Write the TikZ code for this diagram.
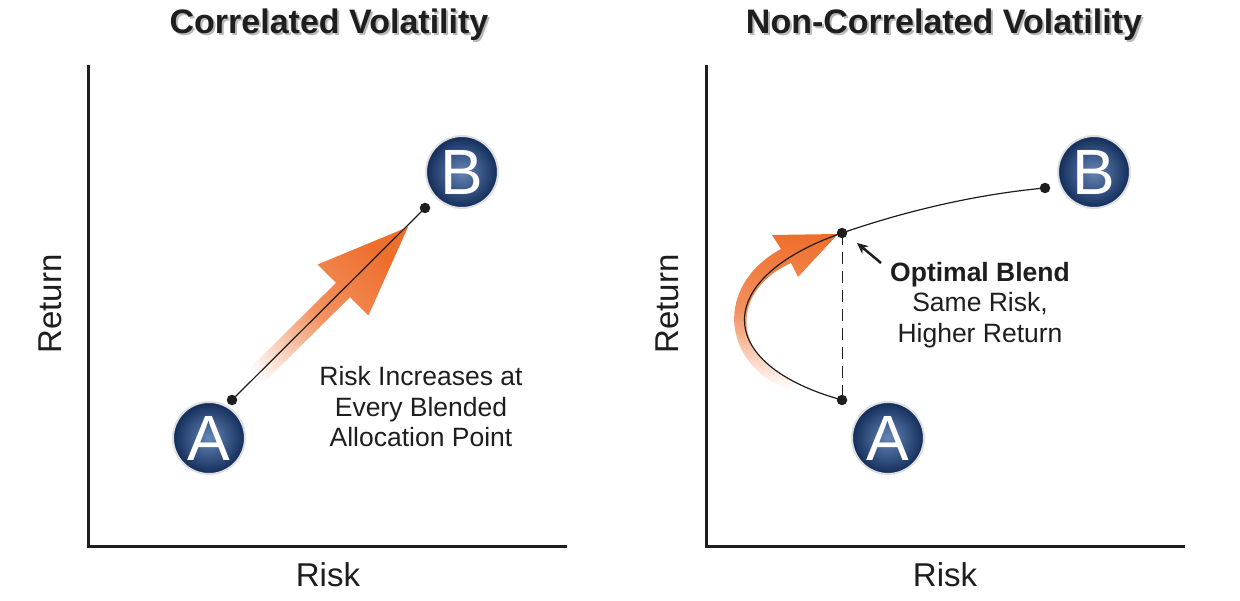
\documentclass[tikz,border=0pt]{standalone}
\usepackage{fontspec}
\setmainfont{Liberation Sans}
\usetikzlibrary{arrows.meta}
\definecolor{ink}{HTML}{1E1E1E}
\definecolor{orng}{HTML}{EE6E2C}
\definecolor{navyout}{HTML}{132D5A}
\definecolor{navyin}{HTML}{6586B6}
\begin{document}
\begin{tikzpicture}[x=1pt,y=-1pt,
  axis/.style={line width=3pt, draw=ink, line join=miter},
  dot/.style={circle, fill=ink, inner sep=0pt, minimum size=10.5pt},
  ball/.style={circle, minimum size=72pt, inner sep=0pt, inner color=navyin, outer color=navyout, draw=gray!25, line width=2pt, text=white, font=\fontsize{64}{64}\selectfont},
  title/.style={font=\bfseries\fontsize{34}{40}\selectfont, text=ink},
  tshadow/.style={font=\bfseries\fontsize{34}{40}\selectfont, text=gray!55},
  axlabel/.style={font=\fontsize{33}{38}\selectfont, text=ink},
  body/.style={font=\fontsize{26.5}{30.5}\selectfont, text=ink, align=center},
  curve/.style={line width=1.2pt, draw=ink},
  fade/.style={top color=orng, bottom color=white, middle color=orng!75},
]
\useasboundingbox (0,0) rectangle (1240,601);
\fill[white] (0,0) rectangle (1240,601);

% titles
\node[tshadow] (s1) at (331,27) {Correlated Volatility};
\node[title] (T1) at (329,25) {Correlated Volatility};
\node[tshadow] (s2) at (946,27) {Non-Correlated Volatility};
\node[title] (T2) at (944,25) {Non-Correlated Volatility};

% axes
\coordinate (y1) at (88,65); \coordinate (o1) at (88,546); \coordinate (x1) at (567,546);
\coordinate (y2) at (706,65); \coordinate (o2) at (706,546); \coordinate (x2) at (1185,546);
\draw[axis] (y1) -- (o1) -- (x1);
\draw[axis] (y2) -- (o2) -- (x2);
\node[axlabel, rotate=90] (r1) at (50,304) {Return};
\node[axlabel, rotate=90] (r2) at (667,304) {Return};
\node[axlabel] (k1) at (328,575) {Risk};
\node[axlabel] (k2) at (945,575) {Risk};

% left orange arrow
\shade[fade, shading angle=-45]
  (228.95,388.91) -- (335.95,282.91) -- (317.6,264.5) -- (408,227)
  -- (368.4,315.5) -- (350.05,297.09) -- (243.05,403.09) -- cycle;

% right curved orange arrow
\shade[fade]
  (788,390) .. controls (720,362) and (715,285) .. (781,249)
  -- (772,235) -- (838,234) -- (798,277) -- (791,263)
  .. controls (731,290) and (731,355) .. (795,382) -- cycle;

% dots
\node[dot] (a1) at (232,400) {};
\node[dot] (b1) at (425,208) {};
\node[dot] (a2) at (842,400) {};
\node[dot] (p2) at (842,233) {};
\node[dot] (b2) at (1045,188) {};

\draw[curve] (a1.center) -- (b1.center);
\draw[curve] (a2.center) .. controls (712,364) and (712,278) .. (p2.center)
  .. controls (900,213) and (970,195) .. (b2.center);
\draw[ink, line width=1pt, dash pattern=on 12pt off 7pt] (p2.center) -- (a2.center);

\coordinate (ptrS) at (881,263);
\coordinate (ptrE) at (857,243);
\draw[ink, line width=2.5pt, -{Stealth[length=11pt,width=10pt]}] (ptrS) -- (ptrE);

% balls
\node[ball] (A1) at (209,438) {A};
\node[ball] (B1) at (462,172) {B};
\node[ball] (A2) at (888,438) {A};
\node[ball] (B2) at (1094,172) {B};

% texts
\node[body] (t1) at (421,407) {Risk Increases at\\Every Blended\\Allocation Point};
\node[body] (t2) at (980,305) {\textbf{Optimal Blend}\\Same Risk,\\Higher Return};
\end{tikzpicture}
\end{document}
